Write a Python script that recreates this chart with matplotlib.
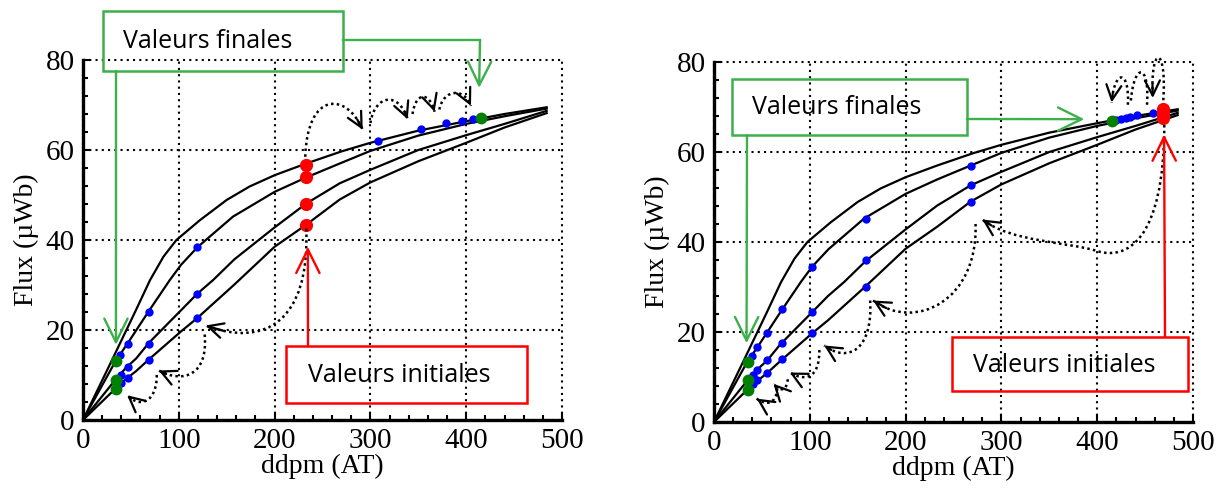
import numpy as np
import matplotlib.pyplot as plt
from matplotlib.patches import Rectangle, PathPatch
from matplotlib.path import Path
from matplotlib.lines import Line2D
from matplotlib.ticker import MultipleLocator

W, H = 1224, 491

# four flux branches, ddpm (AT) -> flux (uWb); same in both plots
c1_x = [0, 30, 55, 70, 84, 97.5, 122, 150, 174, 200, 233, 270, 300, 350, 400, 440, 484]
c1_y = [0, 13.2, 24.3, 31.1, 36.3, 40, 44.4, 48.9, 51.9, 54.4, 57, 59.7, 61.6, 64.3, 66.4, 68, 69.5]
c2_x = [0, 34, 46.5, 69, 90.6, 102.4, 119.5, 156.6, 200, 233, 268, 300, 350, 400, 440, 484]
c2_y = [0, 13.1, 17, 24.3, 31.1, 34.5, 38.4, 45.2, 50.7, 53.9, 57, 59.8, 63.2, 65.8, 67.5, 69.2]
c3_x = [0, 34, 44.4, 55.6, 69, 102.4, 119, 135.8, 158, 200, 233, 268, 300, 350, 400, 440, 484]
c3_y = [0, 9.0, 11.5, 13.7, 17.2, 24.4, 28, 31.1, 35.7, 42.8, 48.1, 52.6, 55.6, 60, 63.3, 65.8, 68.7]
c4_x = [0, 34, 44.4, 55.6, 69, 102.4, 119, 158, 200, 233, 268, 300, 350, 400, 440, 484]
c4_y = [0, 7, 9, 10.9, 13.5, 19.7, 22.6, 30.1, 38.5, 43.4, 49, 52.8, 57.5, 61.6, 65, 68.2]

# left plot points
left_red_x = [233, 233, 233, 233]
left_red_y = [56.7, 53.9, 48.1, 43.4]
left_green_x = [34, 34, 34, 415]
left_green_y = [13.1, 9.0, 7.0, 67.2]
left_blue_x = [38.5, 46.5, 68.8, 119, 40, 46.5, 68.8, 119, 40, 46.5, 68.8, 119,
               308, 352.8, 378.8, 395.5, 406.6]
left_blue_y = [14.4, 17, 24.1, 38.4, 10, 11.7, 17, 28, 8.3, 9.3, 13.3, 22.6,
               61.9, 64.6, 65.9, 66.5, 66.8]

# right plot points
right_red_x = [469, 469, 469, 469]
right_red_y = [69.5, 68.8, 68.2, 67.5]
right_green_x = [35.8, 35.8, 35.8, 415]
right_green_y = [13.4, 9.3, 7.2, 67.0]
right_blue_x = [39.2, 44.4, 55.6, 70.5, 102.4, 158.3, 268.4,
                40.3, 44.4, 55.6, 70.5, 102.4, 158.3, 268.4,
                40.3, 44.4, 55.6, 70.5, 102.4, 158.3, 268.4,
                420, 425, 430, 434, 442, 458]
right_blue_y = [14.7, 16.6, 19.7, 25.2, 34.5, 45.1, 57.0,
                10.4, 11.5, 13.7, 17.6, 24.4, 36.0, 52.6,
                8.5, 9.3, 10.9, 13.9, 19.7, 30.1, 49.0,
                67.2, 67.4, 67.6, 67.7, 68.2, 68.7]

# dotted "jump" arrows (cubic bezier control points, data units), flag = draw head
left_jumps = [
    ([(232, 58.5), (234, 73), (275, 73), (292, 64.5)], True),
    ([(300, 66), (305, 72.5), (330, 73), (339, 66.8)], True),
    ([(344, 68), (347, 73), (362, 73), (367, 68.5)], True),
    ([(372, 69), (376, 73.5), (398, 74), (405, 69.8)], True),
    ([(233, 42.5), (237, 22), (190, 16), (128, 21)], True),
    ([(127, 19), (131, 10), (105, 8), (79, 11)], True),
    ([(77, 10), (77, 4), (60, 2.5), (46, 5.5)], True),
]
right_jumps = [
    ([(470, 66), (470, 40), (430, 36), (400, 38), (370, 40), (310, 40), (280, 45)], True),
    ([(273, 44), (276, 27), (210, 20), (166, 27)], True),
    ([(163, 27), (166, 16), (140, 13), (115, 17)], True),
    ([(110, 16), (110, 9.5), (95, 9), (79, 11)], True),
    ([(77, 9.5), (76, 7), (70, 6.5), (62, 8.5)], True),
    ([(66, 7.5), (65, 4), (55, 3.5), (44.5, 5.2)], True),
    ([(469, 71.5), (473, 84), (455, 84), (458, 72)], True),
    ([(452, 70.5), (455, 80), (438, 80), (435, 71)], False),
    ([(432, 70.5), (434, 78.5), (418, 78.5), (415, 71)], True),
]

GREEN_BOX = '#3cb04a'
RED = '#ff0000'
SERIF = 'Liberation Serif'
BOXFONT = 'Open Sans'

plt.rcParams['font.family'] = SERIF

fig = plt.figure(figsize=(W / 100, H / 100), dpi=100)


def px(x, y):
    return (x / W, 1 - y / H)


def make_axes(left, right, top, bottom):
    l, b = px(left, bottom)
    return fig.add_axes([l, b, (right - left) / W, (bottom - top) / H])


def setup(ax):
    ax.set_xlim(0, 500)
    ax.set_ylim(0, 80)
    ax.set_xticks(range(0, 501, 100))
    ax.set_yticks(range(0, 81, 20))
    ax.xaxis.set_minor_locator(MultipleLocator(20))
    ax.yaxis.set_minor_locator(MultipleLocator(4))
    ax.grid(True, which='major', color='black', linestyle=(0, (1, 2)), linewidth=1.5)
    for g in ax.get_xgridlines() + ax.get_ygridlines():
        g.set_clip_on(False)
    ax.spines['top'].set_visible(False)
    ax.spines['right'].set_visible(False)
    ax.spines['left'].set_linewidth(2.4)
    ax.spines['bottom'].set_linewidth(2.4)
    ax.tick_params(which='both', direction='in', width=1.5, labelsize=21, pad=6)
    ax.tick_params(which='major', length=5)
    ax.tick_params(which='minor', length=3.5)
    ax.set_xlabel('ddpm (AT)', fontsize=20, labelpad=0)
    ax.set_ylabel('Flux (µWb)', fontsize=20, labelpad=5)
    ax.set_axisbelow(True)


def curves(ax):
    for xs, ys in [(c1_x, c1_y), (c2_x, c2_y), (c3_x, c3_y), (c4_x, c4_y)]:
        ax.plot(xs, ys, color='black', lw=1.6, zorder=3)


def points(ax, bx, by, rx, ry, gx, gy):
    ax.plot(bx, by, 'o', color='blue', ms=6, mec='none', zorder=4, clip_on=False)
    ax.plot(rx, ry, 'o', color=RED, ms=9.5, mec='none', zorder=5, clip_on=False)
    ax.plot(gx, gy, 'o', color='green', ms=8.5, mec='none', zorder=5, clip_on=False)


def bez(p, t):
    p0, p1, p2, p3 = [np.array(q, float) for q in p]
    return ((1 - t) ** 3 * p0 + 3 * (1 - t) ** 2 * t * p1
            + 3 * (1 - t) * t ** 2 * p2 + t ** 3 * p3)


def jumps(ax, items):
    for pts, head in items:
        codes = [Path.MOVETO] + [Path.CURVE4] * (len(pts) - 1)
        ax.add_patch(PathPatch(Path(pts, codes), fill=False, edgecolor='black',
                               lw=1.8, linestyle=(0, (1, 1.3)), clip_on=False, zorder=6))
        if head:
            back = bez(pts[-4:], 0.9)
            ax.annotate('', xy=pts[-1], xytext=tuple(back), annotation_clip=False,
                        arrowprops=dict(arrowstyle='->,head_length=0.9,head_width=0.45',
                                        mutation_scale=12, color='black', lw=1.6,
                                        shrinkA=0, shrinkB=0), zorder=6)


def box(x0, y0, x1, y1, color, text, tx):
    # boxes are transparent in the original, grid shows through
    fig.patches.append(Rectangle(px(x0, y1), (x1 - x0) / W, (y1 - y0) / H,
                                 transform=fig.transFigure, fill=False,
                                 edgecolor=color, lw=1.8, zorder=7))
    fig.text(*px(tx, (y0 + y1) / 2 + 1), text, family=BOXFONT, fontsize=18,
             ha='left', va='center', zorder=1)


def pointer(ax, xy, x, y, color):
    ax.annotate('', xy=xy, xytext=(x, H - y), textcoords='figure pixels',
                annotation_clip=False,
                arrowprops=dict(arrowstyle='->,head_length=0.85,head_width=0.42',
                                mutation_scale=20, color=color, lw=1.7,
                                shrinkA=0, shrinkB=0), zorder=8)


# ---- left plot
ax1 = make_axes(83, 562, 60, 420)
setup(ax1)
curves(ax1)
points(ax1, left_blue_x, left_blue_y, left_red_x, left_red_y, left_green_x, left_green_y)
jumps(ax1, left_jumps)

box(103, 11, 343, 71, GREEN_BOX, 'Valeurs finales', 123)
box(286, 346, 527, 403, RED, 'Valeurs initiales', 308)
pointer(ax1, (34.4, 16.7), 116, 71, GREEN_BOX)
fig.lines.append(Line2D([px(343, 40)[0], px(480, 40)[0]], [px(343, 40)[1], px(480, 40)[1]],
                        transform=fig.transFigure, color=GREEN_BOX, lw=1.7, zorder=8))
pointer(ax1, (413.5, 73.8), 480, 40, GREEN_BOX)
pointer(ax1, (234.7, 38.5), 308, 346, RED)

# ---- right plot
ax2 = make_axes(714, 1193, 62, 422)
setup(ax2)
curves(ax2)
points(ax2, right_blue_x, right_blue_y, right_red_x, right_red_y, right_green_x, right_green_y)
jumps(ax2, right_jumps)

box(732, 79, 967, 135, GREEN_BOX, 'Valeurs finales', 752)
box(952, 337, 1188, 391, RED, 'Valeurs initiales', 973)
pointer(ax2, (386.5, 67.3), 967, 119, GREEN_BOX)
pointer(ax2, (34, 17.5), 747, 135, GREEN_BOX)
pointer(ax2, (469.8, 63.9), 1165, 337, RED)

fig.savefig('out.png', dpi=100)
